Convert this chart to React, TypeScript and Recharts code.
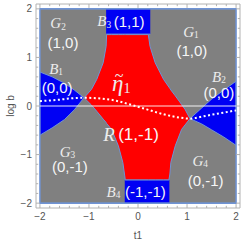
import React from "react";
import {
  ComposedChart,
  XAxis,
  YAxis,
  Area,
  Line,
  Scatter,
  ReferenceArea,
  ReferenceLine,
} from "recharts";

// colours of the region plot
const GRAY = "#808080";
const RED = "#ff0000";
const BLUE = "#0000f4";
const EDGE = "#6f93d4";
const FRAME = "#b2b2b2";
const TEXT = "#555555";

// frame ticks
const majorTicks = [-2, -1, 0, 1, 2];
const minorTicks = [-1.8, -1.6, -1.4, -1.2, -0.8, -0.6, -0.4, -0.2, 0.2, 0.4, 0.6, 0.8, 1.2, 1.4, 1.6, 1.8];

// regions: [t1, lower log b, upper log b]
const grayRegion = [
  [-2, -2, 2],
  [2, -2, 2],
];
const redRegion = [
  [-1.1, 0.17, 0.17],
  [-0.95, 0.02, 0.34],
  [-0.84, -0.11, 0.55],
  [-0.71, -0.27, 0.89],
  [-0.65, -0.34, 1.23],
  [-0.64, -0.36, 1.47],
  [-0.54, -0.48, 1.47],
  [-0.4, -0.82, 1.47],
  [-0.31, -1.16, 1.47],
  [-0.27, -1.44, 1.47],
  [-0.26, -1.52, 1.47],
  [0.21, -1.52, 1.47],
  [0.245, -1.52, 1.23],
  [0.35, -1.52, 0.89],
  [0.52, -1.52, 0.55],
  [0.63, -1.52, 0.39],
  [0.65, -1.4, 0.36],
  [0.67, -1.16, 0.33],
  [0.76, -0.82, 0.21],
  [0.89, -0.48, 0.03],
  [0.96, -0.39, -0.07],
  [1.06, -0.26, -0.26],
];
const b1Region = [
  [-2, -0.6, 0.7],
  [-1.75, -0.45, 0.6],
  [-1.5, -0.28, 0.47],
  [-1.3, -0.08, 0.33],
  [-1.1, 0.17, 0.17],
];
const b2Region = [
  [1.06, -0.26, -0.26],
  [1.3, -0.37, -0.04],
  [1.5, -0.49, 0.14],
  [1.75, -0.64, 0.33],
  [2, -0.81, 0.51],
];
const b3Region = [
  [-0.65, 1.48, 2],
  [0.25, 1.48, 2],
];
const b4Region = [
  [-0.27, -2, -1.52],
  [0.64, -2, -1.52],
];

// white dotted curve through both crossing points
const dividerT = [-2, -1.6, -1.39, -1.1, -0.84, -0.5, -0.16, 0.18, 0.52, 0.86, 1.06, 1.3, 1.5, 1.67, 2];
const dividerB = [0.1, 0.13, 0.155, 0.17, 0.16, 0.12, 0.03, -0.07, -0.17, -0.24, -0.26, -0.22, -0.18, -0.15, -0.09];
const zeroLine = [
  { x: -2, y: 0 },
  { x: 2, y: 0 },
];

// region names
const symbolLabels = [
  { x: -1.63, y: 1.7, base: "G", sub: "2", size: 15 },
  { x: -0.69, y: 1.74, base: "B", sub: "3", size: 15 },
  { x: 1.08, y: 1.52, base: "G", sub: "1", size: 15 },
  { x: -1.67, y: 0.77, base: "B", sub: "1", size: 15 },
  { x: 1.65, y: 0.6, base: "B", sub: "2", size: 15 },
  { x: -0.34, y: 0.47, base: "\u03b7", sub: "1", size: 23, tilde: true },
  { x: -0.59, y: -0.58, base: "R", sub: "", size: 19 },
  { x: -1.44, y: -0.95, base: "G", sub: "3", size: 15 },
  { x: 1.27, y: -1.13, base: "G", sub: "4", size: 15 },
  { x: -0.5, y: -1.77, base: "B", sub: "4", size: 15 },
];
const pairLabels = [
  { x: -1.53, y: 1.31, text: "(1,0)", size: 15 },
  { x: -0.18, y: 1.74, text: "(1,1)", size: 15 },
  { x: 1.1, y: 1.15, text: "(1,0)", size: 15 },
  { x: -1.65, y: 0.38, text: "(0,0)", size: 15 },
  { x: 1.65, y: 0.28, text: "(0,0)", size: 15 },
  { x: 0.01, y: -0.59, text: "(1,-1)", size: 17 },
  { x: -1.39, y: -1.25, text: "(0,-1)", size: 15 },
  { x: 1.38, y: -1.53, text: "(0,-1)", size: 15 },
  { x: 0.15, y: -1.77, text: "(-1,-1)", size: 15 },
];

const toRange = (rows: number[][]) => rows.map(([x, lo, hi]) => ({ x, r: [lo, hi] }));
const divider = dividerT.map((x, i) => ({ x, y: dividerB[i] }));

const fmt = (v: number) => (v < 0 ? "\u2212" + Math.abs(v) : String(v));

const serif = "'Liberation Serif', 'DejaVu Serif', serif";

const SymbolLabel = (p: any) => {
  const d = p.payload;
  return (
    <g>
      <text
        x={p.cx}
        y={p.cy}
        textAnchor="middle"
        dominantBaseline="central"
        fill="#ececec"
        fontFamily={serif}
        fontStyle="italic"
        fontSize={d.size}
      >
        {d.base}
        {d.sub && (
          <tspan fontSize={d.size * 0.62} dy={d.size * 0.22} fontStyle="normal">
            {d.sub}
          </tspan>
        )}
      </text>
      {d.tilde && (
        <text
          x={p.cx - d.size * 0.1}
          y={p.cy - d.size * 0.34}
          textAnchor="middle"
          dominantBaseline="central"
          fill="#ececec"
          fontFamily={serif}
          fontSize={d.size * 0.7}
        >
          ~
        </text>
      )}
    </g>
  );
};

const PairLabel = (p: any) => {
  const d = p.payload;
  return (
    <text
      x={p.cx}
      y={p.cy}
      textAnchor="middle"
      dominantBaseline="central"
      fill="#f6f6f6"
      fontFamily="'Liberation Sans', Arial, sans-serif"
      fontSize={d.size}
    >
      {d.text}
    </text>
  );
};

export default function App() {
  const tickLines: React.ReactNode[] = [];
  const addTicks = (list: number[], len: number, kind: string) => {
    list.forEach((t) => {
      tickLines.push(
        <ReferenceLine key={`${kind}b${t}`} segment={[{ x: t, y: -2.1 }, { x: t, y: -2.1 + len }]} stroke={FRAME} />,
        <ReferenceLine key={`${kind}t${t}`} segment={[{ x: t, y: 2.1 }, { x: t, y: 2.1 - len }]} stroke={FRAME} />,
        <ReferenceLine key={`${kind}l${t}`} segment={[{ x: -2.08, y: t }, { x: -2.08 + len, y: t }]} stroke={FRAME} />,
        <ReferenceLine key={`${kind}r${t}`} segment={[{ x: 2.08, y: t }, { x: 2.08 - len, y: t }]} stroke={FRAME} />
      );
    });
  };
  addTicks(majorTicks, 0.08, "M");
  addTicks(minorTicks, 0.045, "m");

  const regions = [
    { data: grayRegion, fill: GRAY },
    { data: b1Region, fill: BLUE },
    { data: b2Region, fill: BLUE },
    { data: b3Region, fill: BLUE },
    { data: b4Region, fill: BLUE },
    { data: redRegion, fill: RED },
  ];

  return (
    <div style={{ position: "absolute", left: 0, top: 0, width: 245, height: 245 }}>
      <ComposedChart
        width={245}
        height={245}
        margin={{ top: 4, right: 5, left: 0, bottom: 0 }}
        style={{ fontFamily: "'Liberation Sans', Arial, sans-serif" }}
      >
        <XAxis
          type="number"
          dataKey="x"
          domain={[-2.08, 2.08]}
          ticks={majorTicks}
          tickFormatter={fmt}
          allowDataOverflow
          height={37}
          axisLine={false}
          tickLine={false}
          tickSize={0}
          tickMargin={5}
          tick={{ fontSize: 10, fill: TEXT }}
          label={{ value: "t1", position: "insideBottom", offset: 6, fontSize: 10, fill: TEXT }}
        />
        <YAxis
          type="number"
          dataKey="y"
          domain={[-2.1, 2.1]}
          ticks={majorTicks}
          tickFormatter={fmt}
          allowDataOverflow
          width={36}
          axisLine={false}
          tickLine={false}
          tickSize={0}
          tickMargin={4}
          tick={{ fontSize: 10, fill: TEXT }}
          label={{
            value: "log b",
            angle: -90,
            position: "insideLeft",
            offset: 10,
            fontSize: 10,
            fill: TEXT,
            style: { textAnchor: "middle" },
          }}
        />
        {regions.map((g, i) => (
          <Area
            key={`reg${i}`}
            data={toRange(g.data)}
            dataKey="r"
            type="linear"
            fill={g.fill}
            fillOpacity={1}
            stroke={EDGE}
            strokeWidth={1}
            dot={false}
            activeDot={false}
            isAnimationActive={false}
          />
        ))}
        <Line
          data={zeroLine}
          dataKey="y"
          type="linear"
          stroke="rgba(255,255,255,0.6)"
          strokeWidth={1.5}
          dot={false}
          activeDot={false}
          isAnimationActive={false}
        />
        <Line
          data={divider}
          dataKey="y"
          type="monotone"
          stroke="#ffffff"
          strokeWidth={2}
          strokeDasharray="2 2.5"
          dot={false}
          activeDot={false}
          isAnimationActive={false}
        />
        <ReferenceArea x1={-2} x2={2} y1={-2} y2={2} fill="none" stroke={EDGE} strokeWidth={1.5} ifOverflow="visible" />
        <ReferenceArea x1={-2.08} x2={2.08} y1={-2.1} y2={2.1} fill="none" stroke={FRAME} ifOverflow="visible" />
        {tickLines}
        <Scatter data={symbolLabels} shape={SymbolLabel} isAnimationActive={false} />
        <Scatter data={pairLabels} shape={PairLabel} isAnimationActive={false} />
      </ComposedChart>
    </div>
  );
}
